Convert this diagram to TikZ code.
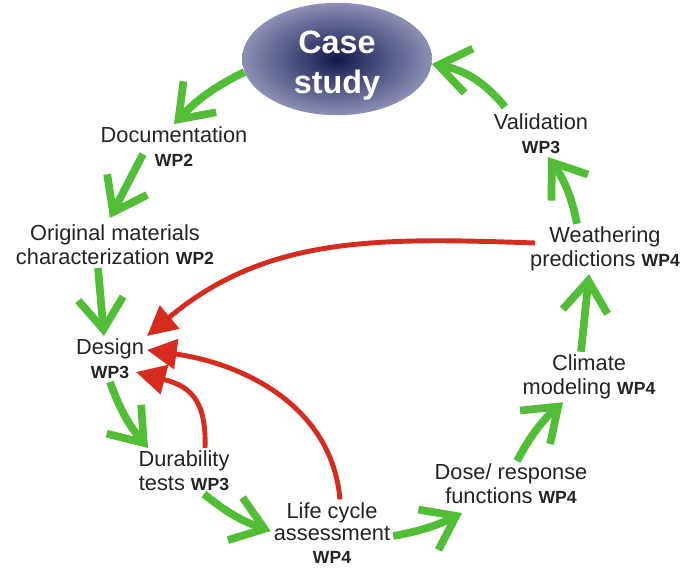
\documentclass[tikz,border=0pt]{standalone}
\usepackage{fontspec}
\setmainfont{Liberation Sans}
\usetikzlibrary{arrows.meta, shapes.geometric}
\definecolor{stepgreen}{RGB}{82,189,54}
\definecolor{feedred}{RGB}{214,44,32}
\definecolor{casecore}{RGB}{18,24,76}
\definecolor{caserim}{RGB}{140,144,182}
\definecolor{labelgray}{RGB}{35,35,35}
\newcommand{\wpnum}[1]{{\fontsize{12.5}{14}\selectfont\bfseries #1}}

\begin{document}
\begin{tikzpicture}[x=0.025cm, y=-0.025cm,
  lbl/.style={align=center, inner sep=2pt, text=labelgray, font=\fontsize{15.5}{17}\selectfont},
  go/.style={draw=stepgreen, line width=5.5pt, -{Straight Barb[length=22pt, width=32pt]}},
  back/.style={draw=feedred, line width=3.5pt, -{Triangle[length=21pt, width=21pt]}}]
\useasboundingbox (0,0) rectangle (684,567);
% case study and the work packages
\node [ellipse, minimum width=135pt, minimum height=80pt, inner color=casecore, outer color=caserim] (case) at (337,59) {};
\node [text=white, align=center, font=\fontsize{23}{28.5}\selectfont\bfseries] (casetxt) at (337,66) {Case\\study};
\node [lbl] (doc) at (174,147) {Documentation\\\wpnum{WP2}};
\node [lbl] (orig) at (115,245) {Original materials\\characterization \wpnum{WP2}};
\node [lbl] (design) at (110,359) {Design\\\wpnum{WP3}};
\node [lbl] (dur) at (184,471) {Durability\\tests \wpnum{WP3}};
\node [lbl, font=\fontsize{15.5}{16}\selectfont] (lca) at (332,533) {Life cycle\\assessment\\\wpnum{WP4}};
\node [lbl] (dose) at (511,484) {Dose/ response\\functions \wpnum{WP4}};
\node [lbl] (clim) at (589,377) {Climate\\modeling \wpnum{WP4}};
\node [lbl] (weath) at (605,249) {Weathering\\predictions \wpnum{WP4}};
\node [lbl] (valid) at (541,134) {Validation\\\wpnum{WP3}};
% green cycle
\draw [go] (case.188) to [bend right=10] (doc.north);
\draw [go] ([shift={(-31,7)}]doc.center) -- ([shift={(-5,-4)}]orig.north);
\draw [go] ([shift={(-17,0)}]orig.south) -- ([shift={(-6,0)}]design.north);
\draw [go] (design.south) to [bend right=10] ([shift={(-36,0)}]dur.north);
\draw [go] ([shift={(20,0)}]dur.south) to [bend right=10] ([shift={(0,-2)}]lca.west);
\draw [go] ([shift={(0,3)}]lca.east) to [bend right=8] ([shift={(-49,6)}]dose.south);
\draw [go] ([shift={(6,0)}]dose.north) to [bend left=10] ([shift={(-26,0)}]clim.south);
\draw [go] ([shift={(-8,0)}]clim.north) -- ([shift={(-16,0)}]weath.south);
\draw [go] ([shift={(-28,0)}]weath.north) to [bend right=12] ([shift={(7,0)}]valid.south);
\draw [go] ([shift={(-36,-4)}]valid.north) to [bend right=20] (case.357);
% red feedback
\draw [back] ([shift={(8,-6)}]weath.west) to [out=178, in=40] (design.north east);
\draw [back] ([shift={(8,0)}]lca.north) to [out=95, in=352] ([shift={(0,-9)}]design.east);
\draw [back] ([shift={(21,0)}]dur.north) to [out=88, in=345, looseness=1.3] ([shift={(-11,13)}]design.east);
\end{tikzpicture}
\end{document}
